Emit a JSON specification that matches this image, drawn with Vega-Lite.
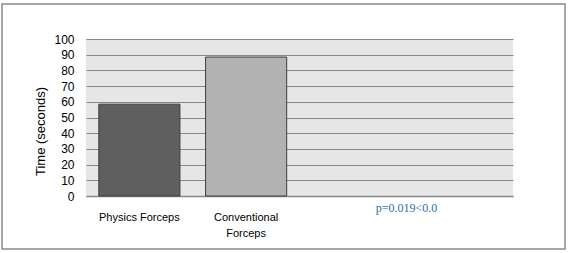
{
  "$schema": "https://vega.github.io/schema/vega-lite/v6.json",
  "width": 427,
  "height": 157,
  "autosize": {"type": "none"},
  "padding": {"left": 86, "top": 39, "right": 57, "bottom": 57},
  "background": "white",
  "config": {
    "view": {"fill": "#e6e6e6", "stroke": null},
    "font": "Liberation Sans"
  },
  "encoding": {
    "y": {
      "type": "quantitative",
      "scale": {"domain": [0, 100], "nice": false},
      "axis": {
        "title": "Time (seconds)", "values": [0, 10, 20, 30, 40, 50, 60, 70, 80, 90, 100],
        "labelOverlap": false, "labelFlush": false,
        "domain": false, "ticks": false, "grid": true, "gridColor": "#868686", "gridWidth": 1, "gridOpacity": 1,
        "labelFont": "Liberation Sans", "labelFontSize": 12, "labelColor": "#000000", "labelPadding": 12,
        "titleFont": "Liberation Sans", "titleFontSize": 13, "titleFontWeight": "normal", "titleColor": "#000000",
        "titleX": -46, "titleY": 92, "titleAlign": "center", "titleBaseline": "middle"
      }
    }
  },
  "layer": [
    {
      "data": {"values": [
        {"category": "Physics Forceps", "time": 58.5},
        {"category": "Conventional Forceps", "time": 88.5}
      ]},
      "mark": {"type": "bar", "stroke": "#3f3f3f", "strokeWidth": 1},
      "encoding": {
        "x": {
          "field": "category", "type": "nominal",
          "scale": {"domain": ["Physics Forceps", "Conventional Forceps", "c3", "c4"], "paddingInner": 0.24, "paddingOuter": 0.12},
          "axis": {
            "title": null, "ticks": false, "labelAngle": 0,
            "domainColor": "#868686", "domainWidth": 1.5,
            "labelFont": "Liberation Sans", "labelFontSize": 11, "labelColor": "#000000",
            "labelPadding": 15, "labelLineHeight": 16, "labelBaseline": "top",
            "labelExpr": "datum.value == 'Conventional Forceps' ? ['Conventional', 'Forceps'] : (datum.value == 'Physics Forceps' ? datum.value : '')"
          }
        },
        "y": {"field": "time"},
        "color": {
          "field": "category", "type": "nominal",
          "scale": {"domain": ["Physics Forceps", "Conventional Forceps"], "range": ["#5f5f5f", "#b2b2b2"]},
          "legend": null
        }
      }
    },
    {
      "data": {"values": [{"note": "p=0.019<0.0", "pos": "c3", "ypos": -10}]},
      "mark": {"type": "text", "font": "Liberation Serif", "fontSize": 12, "color": "#2a6fb0", "align": "center", "baseline": "alphabetic", "clip": false},
      "encoding": {
        "x": {"field": "pos", "type": "nominal", "bandPosition": 1.16},
        "y": {"field": "ypos"},
        "text": {"field": "note"}
      }
    },
    {
      "data": {"values": [{"frame": 1}]},
      "mark": {"type": "rect", "fill": null, "stroke": "#8a8a8a", "strokeWidth": 1.5, "clip": false},
      "encoding": {
        "x": {"value": -84},
        "x2": {"value": 479},
        "y": {"value": -35},
        "y2": {"value": 210}
      }
    }
  ]
}
